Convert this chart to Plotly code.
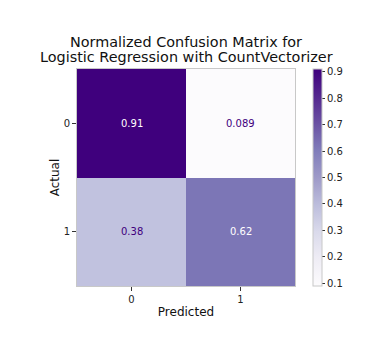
import plotly.graph_objects as go

pred_labels = ["0", "1"]
actual_labels = ["0", "1"]
values = [[0.911, 0.089], [0.38, 0.62]]
cell_text = [["0.91", "0.089"], ["0.38", "0.62"]]
cbar_ticks = [0.1, 0.2, 0.3, 0.4, 0.5, 0.6, 0.7, 0.8, 0.9]
title_lines = ["Normalized Confusion Matrix for", "Logistic Regression with CountVectorizer"]

purples = ['rgb(252,251,253)', 'rgb(239,237,245)', 'rgb(218,218,235)', 'rgb(188,189,220)',
           'rgb(158,154,200)', 'rgb(128,125,186)', 'rgb(106,81,163)', 'rgb(84,39,143)', 'rgb(63,0,125)']
cscale = [[i / (len(purples) - 1), c] for i, c in enumerate(purples)]

zmin = min(min(r) for r in values)
zmax = max(max(r) for r in values)

fig = go.Figure(go.Heatmap(
    z=values, x=pred_labels, y=actual_labels,
    colorscale=cscale, zmin=zmin, zmax=zmax,
    xgap=0, ygap=0, hoverinfo="skip",
    colorbar=dict(
        x=1.083, xanchor="left", y=0.5, yanchor="middle", len=1, lenmode="fraction",
        thickness=9, thicknessmode="pixels", outlinecolor="#c8c8c8", outlinewidth=1,
        tickvals=cbar_ticks, ticktext=[f"{t:.1f}" for t in cbar_ticks],
        ticks="outside", ticklen=3, tickcolor="#333", tickwidth=1,
        tickfont=dict(family="DejaVu Sans", size=10, color="#222"),
        xpad=0, ypad=0,
    ),
))

mid = (zmin + zmax) / 2
for i, a in enumerate(actual_labels):
    for j, p in enumerate(pred_labels):
        color = "white" if values[i][j] > mid else "rgb(63,0,125)"
        fig.add_annotation(x=p, y=a, text=cell_text[i][j], showarrow=False,
                           font=dict(family="DejaVu Sans", size=10, color=color))

for k, line in enumerate(title_lines):
    fig.add_annotation(xref="paper", yref="paper", x=0.5, y=1, yanchor="bottom", xanchor="center",
                       yshift=2 + 15 * (len(title_lines) - 1 - k), showarrow=False, text=line,
                       font=dict(family="DejaVu Sans", size=14.4, color="#111"))

axis_common = dict(
    showgrid=False, zeroline=False, showline=True, mirror=True, linecolor="#c8c8c8", linewidth=1,
    ticks="outside", ticklen=4, tickcolor="#333", tickwidth=1, ticklabelstandoff=0,
    tickfont=dict(family="DejaVu Sans", size=10, color="#222"),
)

fig.update_layout(
    width=377, height=353,
    margin=dict(l=77, r=82, t=69, b=67),
    paper_bgcolor="white", plot_bgcolor="white",
    xaxis=dict(**axis_common, title=dict(text="Predicted", standoff=3,
               font=dict(family="DejaVu Sans", size=12, color="#111"))),
    yaxis=dict(**axis_common, autorange="reversed", title=dict(text="Actual", standoff=1,
               font=dict(family="DejaVu Sans", size=12, color="#111"))),
)

fig.write_html("out.html")
